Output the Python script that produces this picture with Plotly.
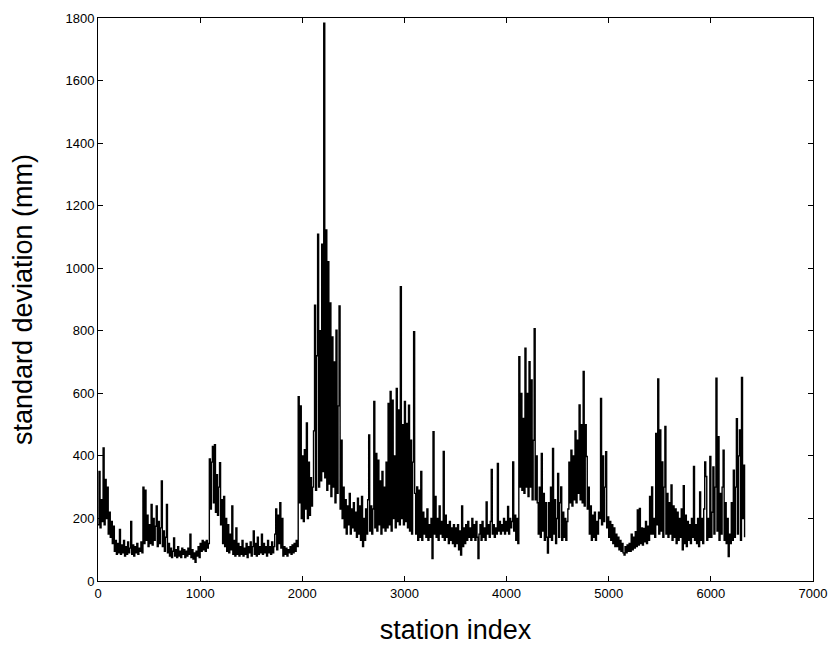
import plotly.graph_objects as go

# station index step between listed values
STEP = 10

std_mm = [
    # 0-990
    180, 350, 170, 260, 190, 425, 180, 325, 200, 300,
    150, 220, 140, 190, 120, 175, 95, 130, 85, 120,
    90, 165, 85, 115, 90, 130, 80, 110, 85, 125,
    90, 105, 190, 85, 115, 80, 110, 90, 120, 85,
    105, 95, 125, 90, 300, 120, 290, 130, 210, 110,
    180, 120, 245, 115, 200, 130, 175, 240, 110, 190,
    120, 170, 320, 110, 160, 95, 140, 245, 90, 120,
    80, 105, 75, 95, 138, 80, 100, 75, 110, 80,
    95, 75, 105, 85, 100, 75, 95, 80, 105, 85,
    150, 75, 100, 70, 90, 60, 95, 80, 110, 75,
    # 1000-1990
    120, 95, 130, 100, 125, 95, 130, 105, 120, 390,
    230, 380, 430, 250, 436, 220, 340, 210, 300, 378,
    180, 260, 120, 270, 110, 200, 95, 180, 90, 150,
    100, 240, 85, 130, 80, 170, 85, 120, 80, 110,
    85, 130, 80, 105, 85, 120, 75, 110, 90, 125,
    80, 110, 160, 85, 120, 80, 140, 85, 110, 90,
    150, 85, 120, 90, 110, 80, 130, 90, 110, 85,
    125, 90, 110, 150, 230, 100, 210, 120, 250, 105,
    200, 80, 110, 85, 105, 80, 100, 90, 110, 85,
    115, 90, 120, 95, 130, 110, 589, 250, 560, 200,
    # 2000-2990
    400, 190, 420, 230, 505, 200, 380, 210, 330, 240,
    300, 480, 882, 290, 720, 1109, 300, 800, 320, 1077,
    350, 1783, 330, 1122, 290, 1021, 310, 889, 270, 780,
    300, 700, 250, 802, 280, 560, 879, 230, 450, 200,
    300, 170, 260, 150, 240, 180, 280, 150, 230, 170,
    250, 160, 220, 140, 265, 150, 240, 130, 270, 110,
    200, 130, 230, 150, 260, 467, 160, 240, 150, 230,
    574, 170, 408, 160, 386, 180, 320, 150, 350, 170,
    300, 160, 380, 170, 568, 180, 606, 160, 578, 200,
    400, 170, 616, 190, 547, 180, 941, 200, 500, 180,
    # 3000-3990
    574, 190, 504, 170, 562, 160, 450, 150, 380, 797,
    280, 150, 301, 130, 290, 140, 350, 130, 220, 150,
    200, 140, 230, 130, 180, 140, 200, 72, 477, 150,
    270, 140, 200, 130, 240, 150, 190, 140, 414, 130,
    210, 140, 180, 120, 190, 130, 170, 120, 180, 110,
    170, 120, 180, 100, 160, 83, 240, 110, 170, 120,
    180, 130, 190, 140, 170, 130, 200, 140, 180, 130,
    190, 140, 72, 150, 180, 130, 190, 140, 170, 130,
    253, 150, 180, 140, 190, 357, 150, 180, 140, 170,
    150, 376, 160, 190, 150, 180, 160, 200, 150, 190,
    # 4000-4990
    160, 238, 150, 200, 170, 190, 381, 160, 210, 130,
    200, 120, 717, 300, 600, 290, 520, 280, 744, 300,
    600, 270, 701, 300, 643, 260, 450, 807, 260, 400,
    250, 150, 300, 140, 408, 160, 280, 130, 250, 140,
    89, 250, 140, 300, 130, 424, 150, 260, 120, 200,
    344, 140, 250, 301, 130, 220, 140, 200, 130, 190,
    230, 380, 250, 418, 240, 400, 260, 480, 250, 450,
    280, 563, 260, 500, 250, 670, 240, 500, 398, 230,
    300, 150, 240, 130, 210, 140, 220, 130, 190, 150,
    220, 200, 584, 180, 400, 190, 300, 413, 170, 205,
    # 5000-5990
    140, 190, 130, 180, 120, 170, 110, 150, 110, 140,
    100, 130, 95, 120, 90, 83, 110, 90, 115, 95,
    120, 95, 150, 100, 140, 105, 158, 110, 227, 115,
    232, 120, 170, 115, 168, 125, 190, 120, 175, 130,
    270, 150, 301, 150, 200, 140, 472, 180, 646, 150,
    483, 160, 381, 140, 300, 494, 150, 280, 140, 250,
    150, 307, 130, 240, 140, 230, 120, 220, 130, 200,
    140, 230, 100, 305, 120, 210, 110, 190, 130, 180,
    120, 200, 140, 366, 130, 180, 120, 200, 110, 285,
    130, 200, 120, 230, 381, 334, 130, 200, 140, 398,
    # 6000-6330
    140, 220, 365, 150, 300, 648, 160, 461, 130, 280,
    150, 300, 418, 130, 250, 120, 200, 78, 150, 120,
    250, 130, 354, 140, 300, 519, 150, 400, 483, 130,
    651, 200, 370, 140,
]

station_index = [i * STEP for i in range(len(std_mm))]

x_ticks = [0, 1000, 2000, 3000, 4000, 5000, 6000, 7000]
y_ticks = [0, 200, 400, 600, 800, 1000, 1200, 1400, 1600, 1800]

fig = go.Figure()
fig.add_trace(go.Scatter(
    x=station_index, y=std_mm, mode="lines",
    line=dict(color="black", width=1.4, shape="hv"),
    showlegend=False, hoverinfo="skip",
))

axis_common = dict(
    showgrid=False, zeroline=False, automargin=False,
    showline=True, linecolor="black", linewidth=1, mirror="ticks",
    ticks="inside", ticklen=5, tickcolor="black", tickwidth=1,
    tickfont=dict(family="Liberation Sans, Arial, sans-serif", size=13, color="black"),
)

fig.update_layout(
    width=833, height=656,
    margin=dict(l=98, r=20, t=18, b=75),
    paper_bgcolor="white", plot_bgcolor="white",
    font=dict(family="Liberation Sans, Arial, sans-serif", color="black"),
    xaxis=dict(range=[0, 7000], tickvals=x_ticks, ticktext=[str(v) for v in x_ticks],
               title=dict(text="station index", font=dict(size=27), standoff=20),
               **axis_common),
    yaxis=dict(range=[0, 1800], tickvals=y_ticks, ticktext=[str(v) for v in y_ticks],
               title=dict(text="standard deviation (mm)", font=dict(size=27), standoff=25),
               **axis_common),
)

# remove the browser's default 8px body margin so the figure fills the window
fig.write_html(
    "out.html",
    config={"displayModeBar": False, "staticPlot": True},
    post_script="document.body.style.margin='0';document.body.style.overflow='hidden';",
)
